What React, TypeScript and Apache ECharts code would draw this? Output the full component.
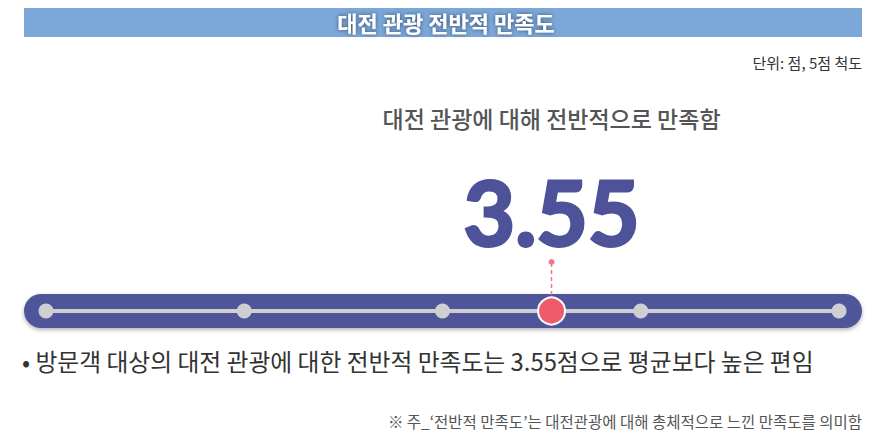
import React, { useEffect, useRef } from "react";
import * as echarts from "echarts";

const titleText = "대전 관광 전반적 만족도";
const unitLabel = "단위: 점, 5점 척도";
const headline = "대전 관광에 대해 전반적으로 만족함";
const scaleTicks = [1, 2, 3, 4, 5];
const overallScore = [3.55];
const summary = "• 방문객 대상의 대전 관광에 대한 전반적 만족도는 3.55점으로 평균보다 높은 편임";
const note = "※ 주_‘전반적 만족도’는 대전관광에 대해 총체적으로 느낀 만족도를 의미함";

const KR = "'Noto Sans CJK KR', 'Noto Sans', sans-serif";

export default function App() {
  const ref = useRef<HTMLDivElement>(null);
  useEffect(() => {
    if (!ref.current) return;
    const chart = echarts.init(ref.current, undefined, { renderer: "svg" });
    const score = overallScore[0];
    chart.setOption({
      animation: false,
      grid: { left: 46, right: 54, top: 300, height: 22 },
      xAxis: { type: "value", min: scaleTicks[0], max: scaleTicks[scaleTicks.length - 1], show: false },
      yAxis: { type: "value", min: -1, max: 1, show: false },
      series: [
        {
          type: "line",
          data: [[scaleTicks[0], 0], [scaleTicks[scaleTicks.length - 1], 0]],
          symbol: "none",
          lineStyle: { color: "#cfcfd2", width: 4 },
          z: 3,
          silent: true,
        },
        {
          type: "scatter",
          data: scaleTicks.map((v) => [v, 0]),
          symbolSize: 15,
          itemStyle: { color: "#cfcfd2", opacity: 1 },
          z: 4,
          silent: true,
        },
        {
          type: "scatter",
          data: overallScore.map((v) => [v, 0]),
          symbolSize: 27,
          itemStyle: { color: "#ef5a6c", borderColor: "#ffffff", borderWidth: 2, opacity: 1 },
          z: 6,
          silent: true,
        },
      ],
    });
    const p = chart.convertToPixel({ gridIndex: 0 }, [score, 0]) as number[];
    const cx = p[0];
    chart.setOption({
      graphic: [
        {
          type: "rect",
          shape: { x: 24, y: 8, width: 838, height: 29 },
          style: { fill: "#7ba7d9" },
          z: 1,
        },
        {
          type: "text",
          x: 446,
          y: 22,
          style: {
            text: titleText,
            fill: "#ffffff",
            font: `bold 22px ${KR}`,
            align: "center",
            verticalAlign: "middle",
            textShadowColor: "rgba(0,0,0,0.55)",
            textShadowBlur: 4,
          },
          z: 2,
        },
        {
          type: "text",
          x: 862,
          y: 62,
          style: { text: unitLabel, fill: "#333333", font: `15px ${KR}`, align: "right", verticalAlign: "middle" },
        },
        {
          type: "text",
          x: cx,
          y: 118,
          style: { text: headline, fill: "#555555", font: `500 23px ${KR}`, align: "center", verticalAlign: "middle" },
        },
        {
          type: "text",
          x: cx,
          y: 211,
          style: {
            text: score.toFixed(2),
            fill: "#4e5298",
            stroke: "#4e5298",
            lineWidth: 3,
            font: `bold 89px Lato, 'DejaVu Sans', sans-serif`,
            align: "center",
            verticalAlign: "middle",
          },
        },
        {
          type: "line",
          shape: { x1: cx, y1: 263, x2: cx, y2: 297 },
          style: { stroke: "#f07a85", lineWidth: 1.5, lineDash: [4, 3] },
          z: 2,
        },
        {
          type: "circle",
          shape: { cx: cx, cy: 262, r: 3 },
          style: { fill: "#f07a85" },
          z: 2,
        },
        {
          type: "rect",
          shape: { x: 24, y: 294, width: 838, height: 34, r: 17 },
          style: {
            fill: "#4f5499",
            shadowBlur: 4,
            shadowOffsetY: 2,
            shadowColor: "rgba(0,0,0,0.3)",
          },
          z: 1,
        },
        {
          type: "text",
          x: 22,
          y: 360,
          style: { text: summary, fill: "#333333", font: `23.8px ${KR}`, align: "left", verticalAlign: "middle" },
        },
        {
          type: "text",
          x: 862,
          y: 421,
          style: { text: note, fill: "#555555", font: `15.5px ${KR}`, align: "right", verticalAlign: "middle" },
        },
      ],
    });
    return () => chart.dispose();
  }, []);
  return (
    <div
      ref={ref}
      style={{ position: "fixed", left: 0, top: 0, width: 893, height: 438, background: "#ffffff" }}
    />
  );
}
